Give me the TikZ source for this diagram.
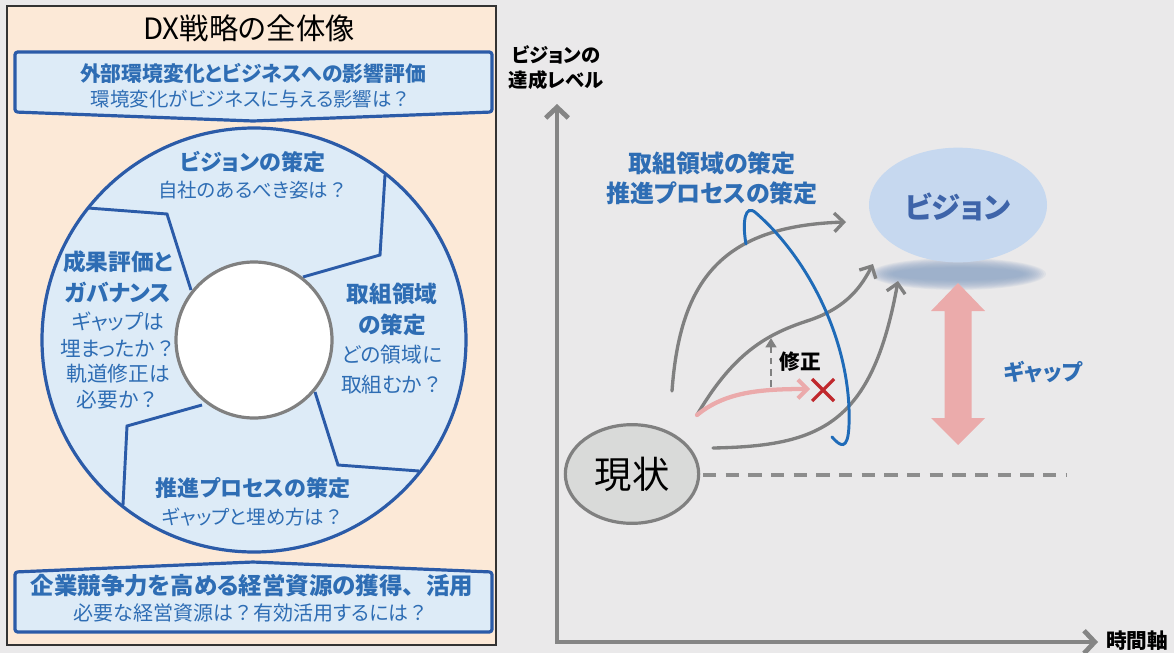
\documentclass[tikz,border=0pt]{standalone}
\usepackage{fontspec}
\setmainfont[RawFeature=+palt]{Noto Sans CJK JP}
\newfontfamily\fw{Noto Sans CJK JP}
\newcommand{\Q}{{\fw ？}}
\usetikzlibrary{arrows.meta,shapes.geometric}
\definecolor{bgc}{HTML}{EAE9EA}
\definecolor{peach}{HTML}{FCE9D7}
\definecolor{lb}{HTML}{DDEBF7}
\definecolor{bbd}{HTML}{2B5BA8}
\definecolor{tblue}{HTML}{2E6DB4}
\definecolor{axg}{HTML}{858585}
\definecolor{crv}{HTML}{808080}
\definecolor{loopb}{HTML}{1F6BB8}
\definecolor{pinka}{HTML}{EBAAAB}
\definecolor{redx}{HTML}{C0282D}
\definecolor{visf}{HTML}{C6D8EF}
\definecolor{vist}{HTML}{3E64A9}
\definecolor{shd}{HTML}{8FA6C6}
\definecolor{gapc}{HTML}{EBABAB}
\definecolor{curf}{HTML}{D9DAD9}
\tikzset{
  fs/.style={font=\fontsize{#1}{#1}\selectfont},
  bt/.style={font=\fontsize{#1}{#1}\selectfont\bfseries, text=tblue, inner sep=0},
  st/.style={font=\fontsize{#1}{#1}\selectfont, text=tblue, inner sep=0},
  banner/.style={draw=bbd, line width=2.4pt, fill=lb, rounded corners=2pt, line join=round},
  divider/.style={draw=bbd, line width=2.2pt, line join=miter},
  crvline/.style={draw=crv, line width=2.5pt, line cap=round, -{Straight Barb[length=7pt,width=14pt,line width=2.5pt]}},
  axisline/.style={draw=axg, line width=3.6pt, {Straight Barb[length=8pt,width=17pt,line width=3.6pt]}-{Straight Barb[length=8pt,width=17pt,line width=3.6pt]}},
}
\begin{document}
\begin{tikzpicture}[x=0.75pt,y=-0.75pt]
\useasboundingbox (0,0) rectangle (1174,653);
\fill[bgc] (0,0) rectangle (1174,653);
% ---------- left panel ----------
\draw[draw=black!80, line width=0.9pt, fill=peach] (7,6) rectangle (496,645);
\node[fs=22pt, inner sep=0] (title) at (249,28) {DX戦略の全体像};
% top banner
\draw[banner] (15,52) -- (492,52) -- (492,112) -- (253,121) -- (15,112) -- cycle;
\node[bt=15.6pt] (tb1) at (253,73) {外部環境変化とビジネスへの影響評価};
\node[st=14.6pt] (tb2) at (251,99) {環境変化がビジネスに与える影響は\Q};
% bottom banner
\draw[banner] (15,572) -- (253,562) -- (492,572) -- (492,632) -- (15,632) -- cycle;
\node[bt=17.6pt] (bb1) at (252,586) {企業競争力を高める経営資源の獲得{\fw 、}活用};
\node[st=15pt] (bb2) at (251,613) {必要な経営資源は\Q 有効活用するには\Q};
% ring
\node[circle, fill=lb, minimum size=318pt, inner sep=0] (ring) at (254,340) {};
\draw[divider] (385,175) -- (380,255) -- (303,277);
\draw[divider] (88,208) -- (167,214) -- (191,290);
\draw[divider] (202,405) -- (127,426) -- (123,505);
\draw[divider] (315,392) -- (338,465) -- (419,471);
\draw[bbd, line width=2.4pt] (254,340) circle [radius=212];
\node[circle, draw=crv, line width=2.4pt, fill=white, minimum size=117pt, inner sep=0] (hub) at (254,340) {};
% ring texts
\node[bt=16.5pt] (v1) at (253,162) {ビジョンの策定};
\node[st=14.6pt] (v2) at (253,190) {自社のあるべき姿は\Q};
\node[bt=17pt] (r1) at (392,294) {取組領域};
\node[bt=17pt] (r2) at (392,325) {の策定};
\node[st=15.5pt] (r3) at (392,355) {どの領域に};
\node[st=15.5pt] (r4) at (392,385) {取組むか\Q};
\node[bt=17pt] (l1) at (118,262) {成果評価と};
\node[bt=17pt] (l2) at (118,293) {ガバナンス};
\node[st=15.5pt] (l3) at (118,322) {ギャップは};
\node[st=15.5pt] (l4) at (118,348) {埋まったか\Q};
\node[st=15.5pt] (l5) at (118,374) {軌道修正は};
\node[st=15.5pt] (l6) at (118,400) {必要か\Q};
\node[bt=16.5pt] (p1) at (253,488) {推進プロセスの策定};
\node[st=14.6pt] (p2) at (253,517) {ギャップと埋め方は\Q};
% ---------- right chart ----------
\coordinate (ytip) at (557,104);
\coordinate (xtip) at (1098,642);
\draw[axisline] (ytip) |- (xtip);
\node[font=\fontsize{14.5}{14.5}\selectfont\bfseries, inner sep=0] (yl1) at (556,55) {ビジョンの};
\node[font=\fontsize{14.5}{14.5}\selectfont\bfseries, inner sep=0] (yl2) at (556,80) {達成レベル};
\node[font=\fontsize{15.5}{15.5}\selectfont\bfseries, inner sep=0, anchor=west] (xl) at (1106,641) {時間軸};
\node[bt=18pt] (c1) at (712,163) {取組領域の策定};
\node[bt=18pt] (c2) at (712,193) {推進プロセスの策定};
% shadow + vision
\foreach \i in {0,...,11}{
  \fill[shd, opacity=0.12] (958,274) ellipse [x radius={88-2*\i}, y radius={16-0.9*\i}];
}
\node[ellipse, fill=visf, minimum width=133.5pt, minimum height=86pt, inner sep=0] (vision) at (958,205) {};
\node[font=\fontsize{22}{22}\selectfont\bfseries, text=vist, inner sep=0] (visiont) at (958,207) {ビジョン};
% gap arrow
\fill[gapc] (958,283) -- (985,311) -- (971.5,311) -- (971.5,418) -- (985,418) -- (958,445) -- (931,418) -- (944.5,418) -- (944.5,311) -- (931,311) -- cycle;
\node[bt=16.5pt] (gapt) at (1043,372) {ギャップ};
% current state
\node[ellipse, draw=crv, line width=2.4pt, fill=curf, minimum width=100pt, minimum height=74pt, inner sep=0] (now) at (632,474) {};
\node[font=\fontsize{28}{28}\selectfont, inner sep=0] (nowt) at (632,474) {現状};
\coordinate (dl1) at (703,475);
\coordinate (dl2) at (1066,475);
\draw[draw=crv!90, line width=2.3pt, dash pattern=on 10pt off 7pt] (dl1) -- (dl2);
% curves
\coordinate (a0) at (672,391); \coordinate (a1) at (846,222);
\coordinate (b0) at (697,415); \coordinate (bm) at (810,320); \coordinate (b1) at (873,264);
\coordinate (c0) at (713,448); \coordinate (c1) at (898,281);
\draw[crvline] (a0) .. controls (680,280) and (722,226) .. (a1);
\draw[crvline] (b0) .. controls (735,350) and (770,333) .. (bm) .. controls (848,307) and (862,285) .. (b1);
\draw[crvline] (c0) .. controls (820,446) and (872,425) .. (c1);
% blue loop
\coordinate (lp0) at (746,244); \coordinate (lpt) at (756,213); \coordinate (lpb) at (849,425); \coordinate (lp1) at (832,437);
\draw[loopb, line width=2.2pt, line cap=round] (lp0) .. controls (742,222) and (745,203) .. (lpt) .. controls (810,260) and (852,345) .. (lpb) .. controls (848,452) and (840,446) .. (lp1);
% pink arrow
\coordinate (pk1) at (810,389);
\draw[draw=pinka, line width=3.2pt, line cap=round, -{Straight Barb[length=7pt,width=14pt,line width=3pt]}] (b0) .. controls (725,392) and (760,389) .. (pk1);
% red x
\coordinate (x1) at (812,379); \coordinate (x2) at (834,401); \coordinate (x3) at (812,401); \coordinate (x4) at (834,379);
\draw[redx, line width=2.4pt] (x1) -- (x2) (x3) -- (x4);
% correction arrow
\coordinate (m0) at (771,387); \coordinate (m1) at (771,338);
\draw[draw=crv, line width=2.2pt, dash pattern=on 5pt off 3.5pt, -{Triangle[length=7pt,width=8pt]}] (m0) -- (m1);
\node[font=\fontsize{15.5}{15.5}\selectfont\bfseries, inner sep=0] (fix) at (800,362) {修正};
\end{tikzpicture}
\end{document}
